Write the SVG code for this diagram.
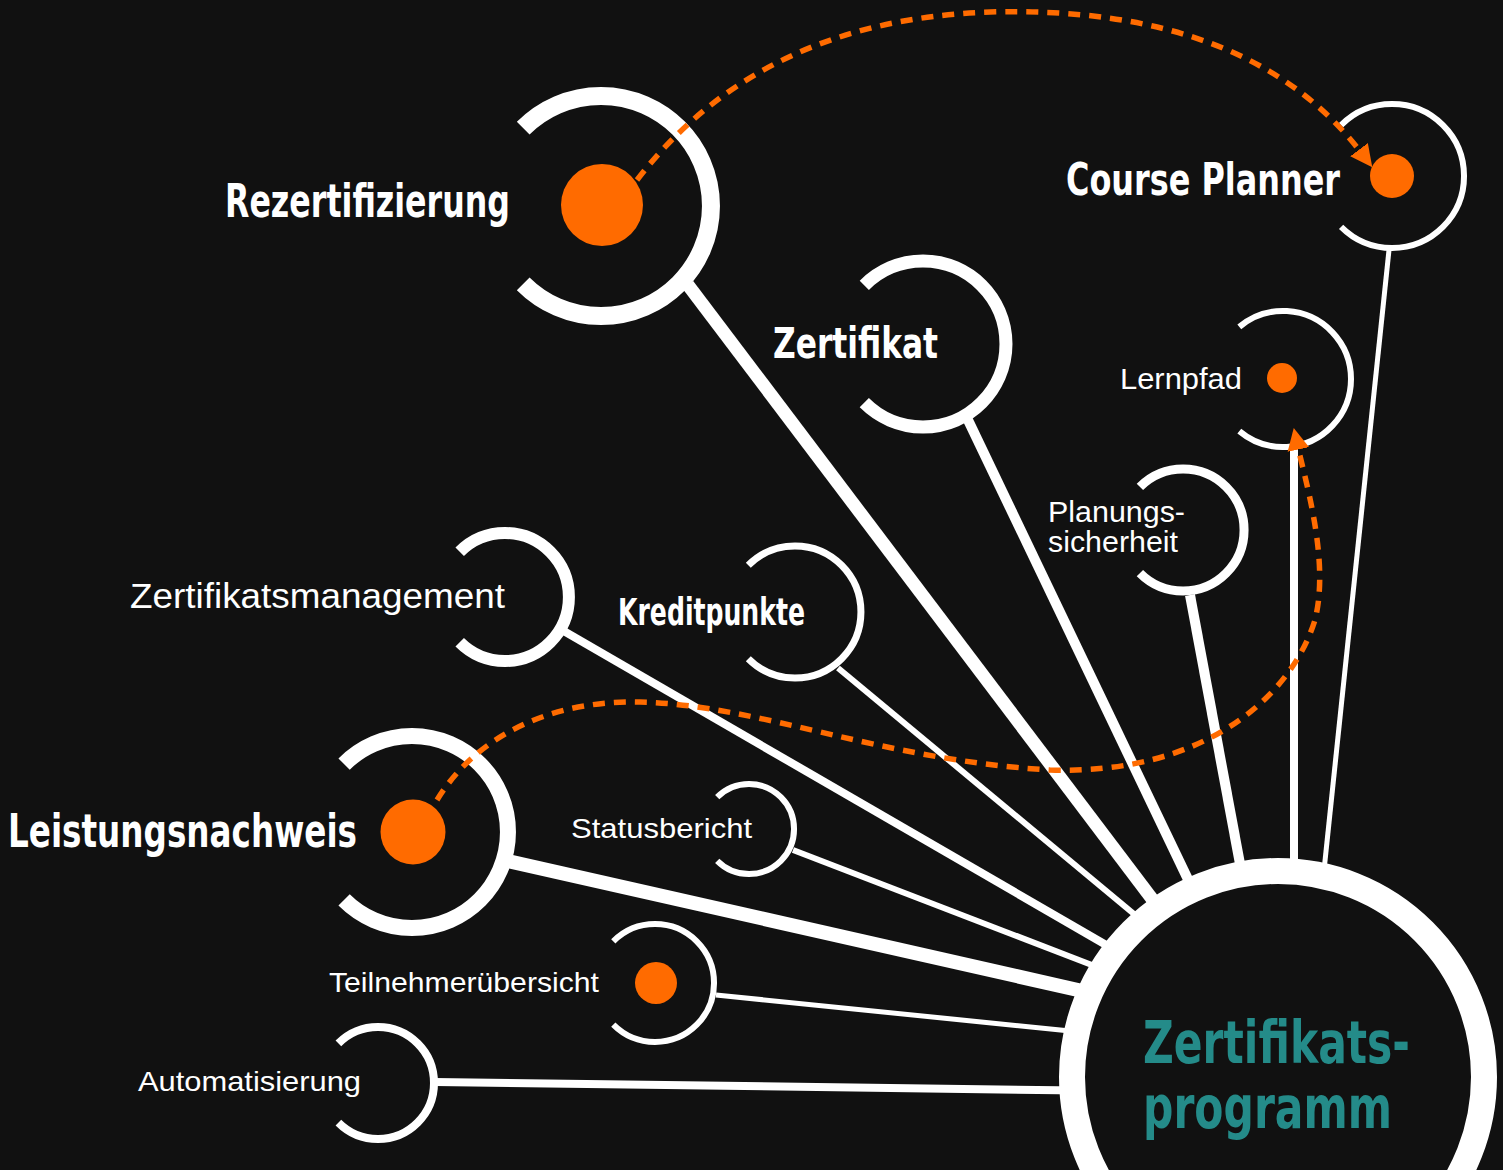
<svg xmlns="http://www.w3.org/2000/svg" width="1503" height="1170" viewBox="0 0 1503 1170">
<defs>
<style>
.bg{fill:#111111}
.ring{fill:none;stroke:#ffffff;stroke-linecap:butt}
.dot{fill:#ff6b00}
.link{stroke:#ffffff;stroke-linecap:butt;fill:none}
.flow{fill:none;stroke:#ff6b00;stroke-width:5.5;stroke-dasharray:12 9}
.bold{font-family:"Liberation Sans Narrow","DejaVu Sans Condensed","Roboto Condensed","Liberation Sans",sans-serif;font-weight:bold;fill:#ffffff}
.reg{font-family:"Liberation Sans","Helvetica",Arial,sans-serif;font-weight:normal;fill:#ffffff}
.hubtxt{font-family:"Liberation Sans Narrow","DejaVu Sans Condensed","Roboto Condensed","Liberation Sans",sans-serif;font-weight:bold;fill:#248b89}
</style>
<marker id="arrow" viewBox="0 0 10 10" refX="3" refY="5" markerUnits="userSpaceOnUse" markerWidth="22" markerHeight="24" orient="auto">
<path d="M0,0 L10,5 L0,10 z" fill="#ff6b00"/>
</marker>
</defs>
<rect class="bg" x="0" y="0" width="1503" height="1170"/>

<g id="connectors">
<line class="link" x1="688" y1="285" x2="1168" y2="920" stroke-width="13"/>
<line class="link" x1="968" y1="420" x2="1195" y2="894" stroke-width="10"/>
<line class="link" x1="1190" y1="595" x2="1243" y2="880" stroke-width="10"/>
<line class="link" x1="1294" y1="447" x2="1294" y2="880" stroke-width="8"/>
<line class="link" x1="1389" y1="250" x2="1323" y2="880" stroke-width="5"/>
<line class="link" x1="562" y1="630" x2="1120" y2="953" stroke-width="8"/>
<line class="link" x1="838" y1="668" x2="1140" y2="919" stroke-width="6"/>
<line class="link" x1="793" y1="850" x2="1110" y2="972" stroke-width="6"/>
<line class="link" x1="508" y1="861" x2="1100" y2="995" stroke-width="14"/>
<line class="link" x1="716" y1="995" x2="1080" y2="1032" stroke-width="5"/>
<line class="link" x1="435" y1="1082" x2="1080" y2="1090.5" stroke-width="8"/>
</g>

<g id="hub">
<circle cx="1278" cy="1077" r="206" fill="#111111" stroke="#ffffff" stroke-width="26"/>
<text class="hubtxt" x="1143" y="1063" font-size="58" textLength="267" lengthAdjust="spacingAndGlyphs">Zertifikats-</text>
<text class="hubtxt" x="1143" y="1128" font-size="58" textLength="249" lengthAdjust="spacingAndGlyphs">programm</text>
</g>

<g id="node-rezertifizierung">
<path class="ring" stroke-width="18" d="M523.2,128.2 A110,110 0 1 1 523.2,283.8"/>
<circle class="dot" cx="602" cy="205" r="41"/>
<text class="bold" x="225" y="217" font-size="46" textLength="285" lengthAdjust="spacingAndGlyphs">Rezertifizierung</text>
</g>

<g id="node-course-planner">
<path class="ring" stroke-width="6" d="M1341.1,125.1 A72,72 0 1 1 1341.1,226.9"/>
<circle class="dot" cx="1392" cy="176" r="22"/>
<text class="bold" x="1066" y="195" font-size="44" textLength="274" lengthAdjust="spacingAndGlyphs">Course Planner</text>
</g>

<g id="node-zertifikat">
<path class="ring" stroke-width="13" d="M864.3,285.3 A83,83 0 1 1 864.3,402.7"/>
<text class="bold" x="773" y="358" font-size="43" textLength="165" lengthAdjust="spacingAndGlyphs">Zertifikat</text>
</g>

<g id="node-lernpfad">
<path class="ring" stroke-width="6" d="M1239.3,326.9 A68,68 0 1 1 1239.3,431.1"/>
<circle class="dot" cx="1282" cy="378" r="15"/>
<text class="reg" x="1120" y="389" font-size="29" textLength="122" lengthAdjust="spacingAndGlyphs">Lernpfad</text>
</g>

<g id="node-planungssicherheit">
<path class="ring" stroke-width="9" d="M1139.9,486.9 A61,61 0 1 1 1139.9,573.1"/>
<text class="reg" x="1048" y="522" font-size="29" textLength="137" lengthAdjust="spacingAndGlyphs">Planungs-</text>
<text class="reg" x="1048" y="552" font-size="29" textLength="130" lengthAdjust="spacingAndGlyphs">sicherheit</text>
</g>

<g id="node-zertifikatsmanagement">
<path class="ring" stroke-width="12" d="M459.7,551.7 A64,64 0 1 1 459.7,642.3"/>
<text class="reg" x="130" y="608" font-size="35" textLength="375" lengthAdjust="spacingAndGlyphs">Zertifikatsmanagement</text>
</g>

<g id="node-kreditpunkte">
<path class="ring" stroke-width="7" d="M748.3,565.3 A66,66 0 1 1 748.3,658.7"/>
<text class="bold" x="618" y="625" font-size="37" textLength="187" lengthAdjust="spacingAndGlyphs">Kreditpunkte</text>
</g>

<g id="node-statusbericht">
<path class="ring" stroke-width="6" d="M717.2,797.2 A45,45 0 1 1 717.2,860.8"/>
<text class="reg" x="571" y="838" font-size="28" textLength="181" lengthAdjust="spacingAndGlyphs">Statusbericht</text>
</g>

<g id="node-leistungsnachweis">
<path class="ring" stroke-width="16" d="M344.1,764.1 A96,96 0 1 1 344.1,899.9"/>
<circle class="dot" cx="413" cy="832" r="32.5"/>
<text class="bold" x="8" y="847" font-size="46" textLength="349" lengthAdjust="spacingAndGlyphs">Leistungsnachweis</text>
</g>

<g id="node-teilnehmeruebersicht">
<path class="ring" stroke-width="6" d="M613.3,941.3 A59,59 0 1 1 613.3,1024.7"/>
<circle class="dot" cx="656" cy="983" r="21"/>
<text class="reg" x="329" y="992" font-size="28" textLength="270" lengthAdjust="spacingAndGlyphs">Teilnehmerübersicht</text>
</g>

<g id="node-automatisierung">
<path class="ring" stroke-width="8" d="M338.4,1043.4 A56,56 0 1 1 338.4,1122.6"/>
<text class="reg" x="138" y="1091" font-size="28" textLength="223" lengthAdjust="spacingAndGlyphs">Automatisierung</text>
</g>

<g id="flows">
<path class="flow" marker-end="url(#arrow)" d="M637,180 Q760,20 990,12 Q1250,5 1363,155"/>
<path class="flow" marker-end="url(#arrow)" d="M437,800 C480,730 560,700 640,702 C760,705 880,760 1050,770 C1200,775 1290,700 1315,620 C1330,560 1305,480 1297,443"/>
</g>
</svg>
